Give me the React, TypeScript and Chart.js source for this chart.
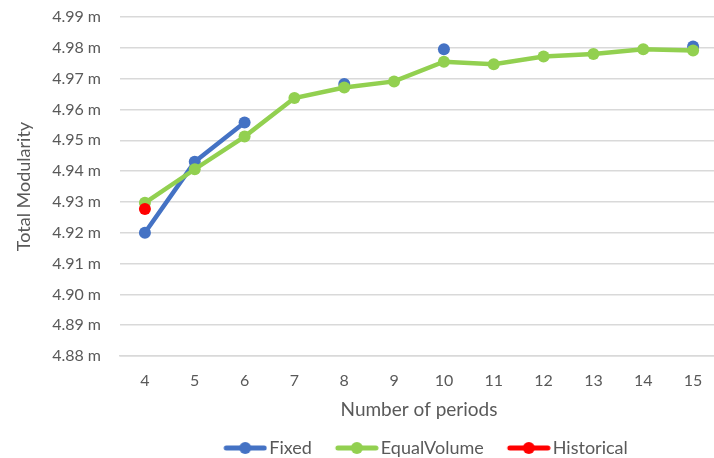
import React, { useEffect, useRef } from "react";
import { Chart, registerables } from "chart.js";

Chart.register(...registerables);

const periods = ["4", "5", "6", "7", "8", "9", "10", "11", "12", "13", "14", "15"];
const fixedValues = [4.92, 4.943, 4.9558, null, 4.9683, null, 4.9795, null, null, null, null, 4.9804];
const equalVolumeValues = [4.9297, 4.9406, 4.9512, 4.9637, 4.9671, 4.9691, 4.9755, 4.9747, 4.9772, 4.978, 4.9795, 4.9791];
const historicalValues = [4.9277, null, null, null, null, null, null, null, null, null, null, null];
const seriesNames = ["Fixed", "EqualVolume", "Historical"];
const seriesColors = ["#4472C4", "#92D050", "#FF0000"];

const FONT = "Lato, 'Open Sans', sans-serif";

// legend icon: 44px line+dot drawn at the right end of a 64px canvas
function legendIcon(color: string): HTMLCanvasElement {
  const c = document.createElement("canvas");
  c.width = 64;
  c.height = 14;
  const ctx = c.getContext("2d")!;
  ctx.strokeStyle = color;
  ctx.lineWidth = 5;
  ctx.lineCap = "round";
  ctx.beginPath();
  ctx.moveTo(23, 7);
  ctx.lineTo(61, 7);
  ctx.stroke();
  ctx.fillStyle = color;
  ctx.beginPath();
  ctx.arc(42, 7, 6, 0, Math.PI * 2);
  ctx.fill();
  return c;
}

export default function App() {
  const ref = useRef<HTMLCanvasElement | null>(null);
  useEffect(() => {
    document.body.style.margin = "0";
    document.body.style.overflow = "hidden";
    const values = [fixedValues, equalVolumeValues, historicalValues];
    const chart = new Chart(ref.current!, {
      type: "line",
      data: {
        labels: periods,
        datasets: values.map((v, i) => ({
          label: seriesNames[i],
          data: v,
          borderColor: seriesColors[i],
          backgroundColor: seriesColors[i],
          borderWidth: 4.5,
          pointRadius: 6,
          pointHoverRadius: 6,
          pointBorderWidth: 0,
          pointStyle: "circle",
          spanGaps: false,
          order: 3 - i,
          tension: 0,
          legendIcon: legendIcon(seriesColors[i]),
        })) as any,
      },
      options: {
        animation: false,
        responsive: false,
        maintainAspectRatio: false,
        layout: { padding: { top: 17, right: 0, bottom: -9, left: 0 } },
        plugins: {
          tooltip: { enabled: false },
          legend: {
            position: "bottom",
            fullSize: false,
            labels: {
              usePointStyle: true,
              pointStyleWidth: 50,
              padding: 10,
              color: "#595959",
              font: { family: FONT, size: 18 },
              sort: (a: any, b: any) => a.datasetIndex - b.datasetIndex,
              generateLabels: (ch: any) =>
                ch.data.datasets.map((ds: any, i: number) => ({
                  text: ds.label,
                  fillStyle: ds.borderColor,
                  strokeStyle: ds.borderColor,
                  fontColor: "#595959",
                  lineWidth: 0,
                  pointStyle: ds.legendIcon,
                  hidden: false,
                  datasetIndex: i,
                })),
            },
          },
        },
        scales: {
          x: {
            offset: true,
            grid: { display: false, drawTicks: false },
            border: { display: true, color: "#D9D9D9", width: 1.5 },
            ticks: { color: "#595959", font: { family: FONT, size: 16 }, padding: 15 },
            title: {
              display: true,
              text: "Number of periods",
              color: "#595959",
              font: { family: FONT, size: 19 },
              padding: { top: 6, bottom: 7.6 },
            },
            afterFit: (s: any) => {
              s.height = 73;
            },
          },
          y: {
            min: 4.88,
            max: 4.99,
            grid: { color: "#D9D9D9", lineWidth: 1.5, drawTicks: false },
            border: { display: false },
            ticks: {
              stepSize: 0.01,
              color: "#595959",
              font: { family: FONT, size: 16 },
              padding: 19,
              callback: (v: any) => Number(v).toFixed(2) + " m",
            },
            title: {
              display: true,
              text: "Total Modularity",
              color: "#595959",
              font: { family: FONT, size: 18 },
              padding: { top: 13, bottom: 0 },
            },
            afterFit: (s: any) => {
              s.width = 120;
              s.paddingTop = 0;
              s.paddingBottom = 0;
            },
          },
        },
      },
    });
    return () => chart.destroy();
  }, []);
  return (
    <div style={{ position: "absolute", left: 0, top: 0, width: 724, height: 458 }}>
      <canvas ref={ref} width={724} height={458} style={{ width: 724, height: 458 }} />
    </div>
  );
}
